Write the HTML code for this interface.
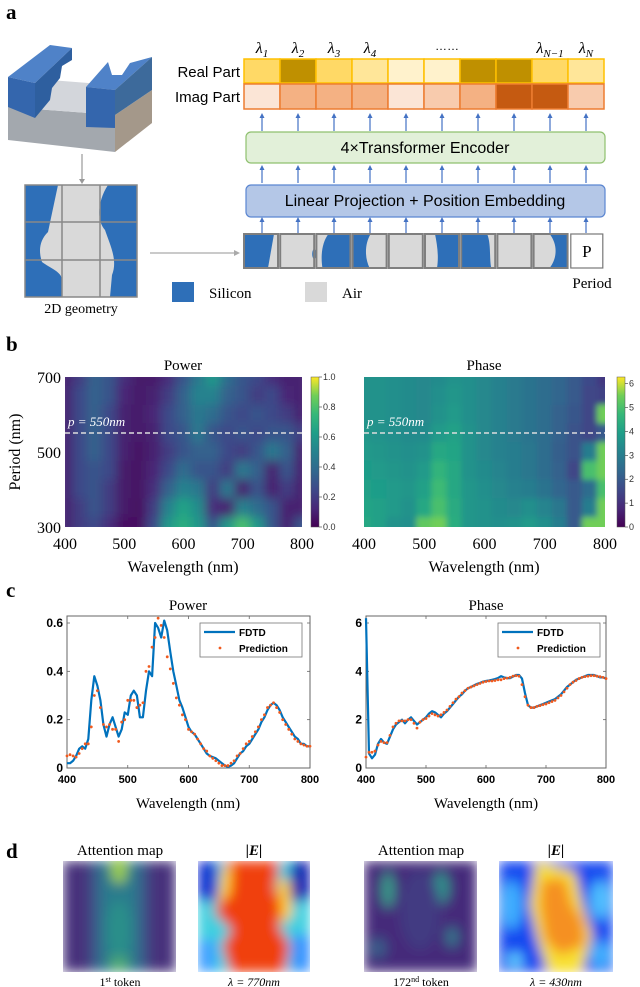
<!DOCTYPE html>
<html><head><meta charset="utf-8"><style>
html,body{margin:0;padding:0;background:#fff}
svg{display:block}
.serif{font-family:"Liberation Serif",serif}
.sans{font-family:"Liberation Sans",sans-serif}
</style></head><body>
<svg id="fig" width="640" height="987" viewBox="0 0 640 987" xmlns="http://www.w3.org/2000/svg">
<defs>
<filter id="blurH" x="0" y="0" width="1" height="1"><feGaussianBlur stdDeviation="5" edgeMode="duplicate"/></filter>
<filter id="blurQ" x="0" y="0" width="1" height="1"><feGaussianBlur stdDeviation="3" edgeMode="duplicate"/></filter>
<filter id="blurD" x="0" y="0" width="1" height="1"><feGaussianBlur stdDeviation="6" edgeMode="duplicate"/></filter>
<clipPath id="cpP"><rect x="65" y="377" width="237" height="150"/></clipPath>
<clipPath id="cpQ"><rect x="364" y="377" width="241" height="150"/></clipPath>
<clipPath id="cpD1"><rect x="63" y="861" width="113" height="111"/></clipPath>
<clipPath id="cpD2"><rect x="198" y="861" width="112" height="111"/></clipPath>
<clipPath id="cpD3"><rect x="364" y="861" width="113" height="111"/></clipPath>
<clipPath id="cpD4"><rect x="499" y="861" width="114" height="111"/></clipPath>
<linearGradient id="vir" x1="0" y1="1" x2="0" y2="0">
<stop offset="0" stop-color="#440154"/><stop offset="0.125" stop-color="#482878"/><stop offset="0.25" stop-color="#3e4989"/><stop offset="0.375" stop-color="#31688e"/><stop offset="0.5" stop-color="#26828e"/><stop offset="0.625" stop-color="#1f9e89"/><stop offset="0.75" stop-color="#35b779"/><stop offset="0.875" stop-color="#6ece58"/><stop offset="1" stop-color="#fde725"/>
</linearGradient>
</defs>

<!-- Panel a -->
<text x="6" y="19" class="serif" font-size="21" font-weight="bold">a</text>
<g>
<polygon points="8,107 115,115 115,152 8,140" fill="#a3a8ae"/>
<polygon points="115,115 152,90 152,123 115,152" fill="#a4988a"/>
<polygon points="8,107 50,80 152,88 115,115" fill="#d3d6db"/>
<polygon points="8,77 50,45 72,48 35,83" fill="#4f82c8"/>
<polygon points="8,77 35,83 35,118 8,107" fill="#3466ad"/>
<polygon points="35,83 72,48 72,60 62,66 60,78 52,88 50,100 35,118" fill="#2e5f9f"/>
<polygon points="86,87 108,62 112,75 122,75 130,63 152,57 115,90" fill="#4f82c8"/>
<polygon points="86,87 115,90 115,128 86,127" fill="#3466ad"/>
<polygon points="115,90 152,57 152,90 115,115" fill="#3d6a9b"/>
</g>
<line x1="82" y1="154" x2="82" y2="180" stroke="#999" stroke-width="1.2"/>
<polygon points="79,179 85,179 82,184" fill="#999"/>
<g>
<rect x="25" y="185" width="112" height="112" fill="#2e6fb8"/>
<path d="M58,185 L108,185 C98,200 96,220 105,230 C110,245 118,260 112,275 L110,297 L62,297 L62,280 C62,272 50,268 42,262 C38,250 40,240 48,232 Z" fill="#d9d9d9"/>
<g stroke="#888" stroke-width="1.5" fill="none"><rect x="25" y="185" width="112" height="112"/><line x1="62" y1="185" x2="62" y2="297"/><line x1="100" y1="185" x2="100" y2="297"/><line x1="25" y1="222" x2="137" y2="222"/><line x1="25" y1="260" x2="137" y2="260"/></g>
</g>
<text x="81" y="313" class="serif" font-size="14" text-anchor="middle">2D geometry</text>
<line x1="150" y1="253" x2="235" y2="253" stroke="#aaa" stroke-width="1.2"/>
<polygon points="234,250 234,256 240,253" fill="#aaa"/>
<rect x="172" y="282" width="22" height="20" fill="#2e6fb8"/>
<text x="209" y="298" class="serif" font-size="15">Silicon</text>
<rect x="305" y="282" width="22" height="20" fill="#d9d9d9"/>
<text x="342" y="298" class="serif" font-size="15">Air</text>

<g id="panelA"></g>
<text x="240" y="77" class="sans" font-size="15" text-anchor="end">Real Part</text>
<text x="240" y="102" class="sans" font-size="15" text-anchor="end">Imag Part</text>
<rect x="246" y="132" width="359" height="31" rx="5" fill="#e2f0d9" stroke="#8fc06f" stroke-width="1.2"/>
<text x="425" y="153" class="sans" font-size="16" text-anchor="middle">4×Transformer Encoder</text>
<rect x="246" y="185" width="359" height="32" rx="5" fill="#b4c7e7" stroke="#5b86d1" stroke-width="1.2"/>
<text x="425" y="206" class="sans" font-size="16" text-anchor="middle">Linear Projection + Position Embedding</text>
<text x="592" y="288" class="serif" font-size="15" text-anchor="middle">Period</text>

<!-- Panel b -->
<text x="6" y="351" class="serif" font-size="21" font-weight="bold">b</text>
<text x="183" y="370" class="serif" font-size="15" text-anchor="middle">Power</text>
<text x="484" y="370" class="serif" font-size="15" text-anchor="middle">Phase</text>
<g clip-path="url(#cpP)"><g id="hmP" filter="url(#blurH)"></g></g>
<g clip-path="url(#cpQ)"><g id="hmQ" filter="url(#blurQ)"></g></g>
<g id="hmAxes"></g>
<rect x="311" y="377" width="8" height="150" fill="url(#vir)" stroke="#555" stroke-width="0.5"/>
<rect x="617" y="377" width="8" height="150" fill="url(#vir)" stroke="#555" stroke-width="0.5"/>
<text transform="translate(20,452) rotate(-90)" class="serif" font-size="16" text-anchor="middle">Period (nm)</text>
<text x="183" y="572" class="serif" font-size="16" text-anchor="middle">Wavelength (nm)</text>
<text x="484" y="572" class="serif" font-size="16" text-anchor="middle">Wavelength (nm)</text>

<!-- Panel c -->
<text x="6" y="597" class="serif" font-size="21" font-weight="bold">c</text>
<text x="188" y="610" class="serif" font-size="15" text-anchor="middle">Power</text>
<text x="486" y="610" class="serif" font-size="15" text-anchor="middle">Phase</text>
<g id="lines"></g>
<text x="188" y="808" class="serif" font-size="15" text-anchor="middle">Wavelength (nm)</text>
<text x="486" y="808" class="serif" font-size="15" text-anchor="middle">Wavelength (nm)</text>

<!-- Panel d -->
<text x="6" y="858" class="serif" font-size="21" font-weight="bold">d</text>
<text x="120" y="855" class="serif" font-size="15" text-anchor="middle">Attention map</text>
<text x="254" y="855" class="serif" font-size="15" font-weight="bold" font-style="italic" text-anchor="middle">|E|</text>
<text x="421" y="855" class="serif" font-size="15" text-anchor="middle">Attention map</text>
<text x="556" y="855" class="serif" font-size="15" font-weight="bold" font-style="italic" text-anchor="middle">|E|</text>

<g clip-path="url(#cpD1)"><g filter="url(#blurD)">
<rect x="63" y="861" width="113" height="111" fill="#46307c"/>
<rect x="90" y="861" width="58" height="111" fill="#3b5a8c"/>
<rect x="100" y="861" width="38" height="111" fill="#2b7a8d"/>
<ellipse cx="119" cy="870" rx="8" ry="14" fill="#9ccf4a"/>
<ellipse cx="119" cy="962" rx="9" ry="10" fill="#55b06e"/>
<ellipse cx="119" cy="930" rx="12" ry="30" fill="#2c8f8a"/>
</g></g>
<g clip-path="url(#cpD2)"><g filter="url(#blurD)">
<rect x="198" y="861" width="112" height="111" fill="#40d0e0"/>
<rect x="198" y="861" width="20" height="40" fill="#1030d0"/>
<rect x="290" y="861" width="20" height="40" fill="#1020b0"/>
<rect x="198" y="940" width="18" height="32" fill="#40a0ff"/>
<rect x="292" y="935" width="18" height="37" fill="#3090ff"/>
<path d="M225,861 L280,861 L275,890 L288,905 L278,925 L290,945 L285,972 L230,972 L222,945 L232,930 L214,912 L228,890 Z" fill="#f04010"/>
<path d="M222,870 L232,865 L230,895 L215,905 L220,890 Z" fill="#ffd020"/>
<path d="M278,880 L290,880 L292,915 L282,925 Z" fill="#ffd020"/>
</g></g>
<g clip-path="url(#cpD3)"><g filter="url(#blurD)">
<rect x="364" y="861" width="113" height="111" fill="#45297a"/>
<ellipse cx="388" cy="890" rx="6" ry="18" fill="#35a08a"/>
<ellipse cx="441" cy="888" rx="8" ry="16" fill="#2a948c"/>
<ellipse cx="378" cy="948" rx="8" ry="10" fill="#38608c"/>
<ellipse cx="452" cy="937" rx="6" ry="10" fill="#2f7a8e"/>
<ellipse cx="420" cy="910" rx="20" ry="40" fill="#433b82"/>
</g></g>
<g clip-path="url(#cpD4)"><g filter="url(#blurD)">
<rect x="499" y="861" width="114" height="111" fill="#1848f0"/>
<ellipse cx="512" cy="905" rx="10" ry="25" fill="#40b0ff"/>
<ellipse cx="600" cy="900" rx="10" ry="20" fill="#50c0ff"/>
<ellipse cx="600" cy="955" rx="10" ry="14" fill="#40b0ff"/>
<ellipse cx="515" cy="960" rx="8" ry="8" fill="#60d0ff"/>
<path d="M536,861 L575,872 L582,905 L592,935 L582,972 L548,972 L538,940 L530,905 Z" fill="#f8e030"/>
<path d="M542,880 L565,878 L572,905 L583,920 L585,945 L560,955 L545,940 L540,905 Z" fill="#f59020"/>
</g></g>
<text x="120" y="986" class="serif" font-size="12" text-anchor="middle">1<tspan font-size="8" dy="-4">st</tspan><tspan dy="4"> token</tspan></text>
<text x="254" y="986" class="serif" font-size="12" font-style="italic" text-anchor="middle">λ = 770nm</text>
<text x="421" y="986" class="serif" font-size="12" text-anchor="middle">172<tspan font-size="8" dy="-4">nd</tspan><tspan dy="4"> token</tspan></text>
<text x="556" y="986" class="serif" font-size="12" font-style="italic" text-anchor="middle">λ = 430nm</text>
</svg>

<script>
// ---------- Panel a data ----------
const lambdaLabels = ["λ1","λ2","λ3","λ4","","","","","λN−1","λN"];
const realColors = ["#ffd966","#bf9000","#ffd966","#ffe699","#fff2cc","#fff2cc","#bf9000","#bf9000","#ffd966","#ffe699"];
const imagColors = ["#fbe5d6","#f4b183","#f4b183","#f4b183","#fbe5d6","#f8cbad","#f4b183","#c55a11","#c55a11","#f8cbad"];
const tokenKinds = ["a","b","c","d","e","f","g","e","h","P"];

// ---------- Panel b data (rows: period 700 -> 300 step 50; cols: wavelength 400 -> 800 step 25) ----------
const hmWavelengths = [400,425,450,475,500,525,550,575,600,625,650,675,700,725,750,775,800];
const hmPeriods = [700,650,600,550,500,450,400,350,300];
const powerGrid = [
 [0.1,0.2,0.35,0.3,0.15,0.08,0.08,0.15,0.3,0.45,0.6,0.4,0.3,0.25,0.15,0.1,0.1],
 [0.1,0.25,0.35,0.3,0.12,0.08,0.1,0.2,0.35,0.5,0.5,0.35,0.3,0.2,0.25,0.12,0.1],
 [0.1,0.25,0.35,0.25,0.1,0.08,0.12,0.25,0.35,0.45,0.4,0.3,0.25,0.3,0.25,0.2,0.1],
 [0.1,0.25,0.35,0.25,0.1,0.08,0.1,0.25,0.3,0.45,0.3,0.25,0.3,0.25,0.3,0.3,0.2],
 [0.1,0.25,0.35,0.25,0.1,0.06,0.1,0.2,0.3,0.35,0.35,0.25,0.2,0.3,0.45,0.35,0.1],
 [0.1,0.25,0.3,0.25,0.08,0.06,0.12,0.25,0.4,0.3,0.3,0.2,0.45,0.35,0.1,0.3,0.1],
 [0.1,0.25,0.3,0.2,0.08,0.06,0.15,0.35,0.5,0.45,0.2,0.45,0.1,0.3,0.1,0.2,0.1],
 [0.1,0.2,0.3,0.2,0.08,0.05,0.2,0.5,0.65,0.55,0.15,0.1,0.5,0.4,0.3,0.1,0.1],
 [0.1,0.2,0.25,0.15,0.05,0.05,0.25,0.6,0.7,0.6,0.3,0.6,0.8,0.6,0.3,0.1,0.3]
];
const phaseGrid = [
 [3.6,3.6,3.5,3.4,3.3,3.4,3.6,3.5,3.3,3.1,2.9,2.7,2.5,2.3,2.0,1.6,1.2],
 [3.6,3.6,3.5,3.4,3.3,3.5,3.7,3.5,3.3,3.1,2.9,2.7,2.5,2.3,2.0,1.5,1.4],
 [3.6,3.6,3.5,3.4,3.3,3.6,3.8,3.5,3.3,3.1,2.9,2.7,2.5,2.2,1.9,1.5,5.5],
 [3.7,3.6,3.5,3.4,3.4,3.8,4.0,3.6,3.3,3.1,2.9,2.7,2.5,2.2,1.8,1.5,2.0],
 [3.8,3.7,3.6,3.5,3.6,4.2,4.1,3.6,3.3,3.1,3.0,2.8,2.5,2.1,1.8,3.0,5.5],
 [3.9,3.8,3.7,3.6,3.8,4.6,4.2,3.6,3.4,3.2,3.0,2.8,2.5,2.2,1.5,5.0,5.5],
 [4.0,3.9,3.8,3.7,4.0,4.8,4.2,3.7,3.5,3.3,3.1,3.0,2.7,2.3,2.0,2.5,5.0],
 [4.1,4.0,3.8,3.6,4.2,5.0,4.3,3.7,3.6,3.4,3.3,3.5,3.2,2.8,2.0,3.0,5.5],
 [4.2,4.0,3.6,3.5,5.3,5.5,4.4,3.7,3.6,3.5,3.6,3.8,3.5,3.0,2.0,5.5,5.5]
];
const hmXTicks = [400,500,600,700,800];
const hmYTicks = [700,500,300];
const powerCbTicks = ["0.0","0.2","0.4","0.6","0.8","1.0"];
const phaseCbTicks = ["0","1","2","3","4","5","6"];

// ---------- Panel c data ----------
const lineWavelengths = [400,405,410,415,420,425,430,435,440,445,450,455,460,465,470,475,480,485,490,495,500,505,510,515,520,525,530,535,540,545,550,555,560,565,570,575,580,585,590,595,600,605,610,615,620,625,630,635,640,645,650,655,660,665,670,675,680,685,690,695,700,705,710,715,720,725,730,735,740,745,750,755,760,765,770,775,780,785,790,795,800];
const powerFDTD = [0.02,0.02,0.03,0.05,0.08,0.09,0.08,0.12,0.28,0.38,0.34,0.28,0.18,0.13,0.18,0.21,0.17,0.13,0.16,0.23,0.22,0.30,0.32,0.30,0.21,0.21,0.32,0.40,0.38,0.60,0.58,0.54,0.61,0.57,0.48,0.40,0.34,0.28,0.25,0.21,0.17,0.15,0.14,0.12,0.10,0.08,0.06,0.05,0.045,0.04,0.03,0.02,0.01,0.005,0.01,0.02,0.04,0.06,0.07,0.09,0.10,0.12,0.14,0.16,0.19,0.21,0.24,0.26,0.27,0.26,0.24,0.21,0.19,0.17,0.15,0.13,0.12,0.10,0.10,0.09,0.09];
const powerPred = [0.05,0.055,0.05,0.045,0.06,0.08,0.10,0.10,0.17,0.30,0.32,0.25,0.18,0.17,0.18,0.16,0.16,0.11,0.19,0.20,0.28,0.28,0.28,0.25,0.26,0.27,0.40,0.42,0.50,0.54,0.62,0.59,0.54,0.46,0.41,0.35,0.29,0.26,0.22,0.20,0.16,0.15,0.14,0.12,0.10,0.08,0.07,0.05,0.04,0.03,0.02,0.01,0.01,0.01,0.02,0.03,0.05,0.06,0.08,0.10,0.11,0.13,0.15,0.17,0.20,0.22,0.25,0.26,0.27,0.25,0.23,0.20,0.18,0.16,0.14,0.12,0.11,0.10,0.095,0.09,0.09];
const phaseFDTD = [6.2,0.6,0.4,0.55,1.0,1.2,1.05,1.0,1.3,1.6,1.8,1.9,2.0,1.85,2.0,2.1,1.95,1.8,1.9,2.0,2.1,2.25,2.35,2.3,2.2,2.1,2.25,2.35,2.5,2.65,2.8,2.95,3.05,3.2,3.3,3.35,3.42,3.48,3.52,3.57,3.6,3.62,3.65,3.68,3.72,3.8,3.75,3.72,3.72,3.78,3.85,3.85,3.7,3.1,2.6,2.5,2.5,2.55,2.6,2.65,2.7,2.75,2.8,2.85,2.95,3.05,3.2,3.35,3.45,3.55,3.65,3.7,3.75,3.8,3.85,3.85,3.85,3.8,3.75,3.75,3.7];
const phasePred = [0.45,0.65,0.65,0.7,0.95,1.1,1.05,1.05,1.35,1.7,1.85,1.95,1.95,1.95,2.0,2.0,1.85,1.65,1.9,2.0,2.05,2.15,2.25,2.2,2.15,2.2,2.3,2.4,2.55,2.7,2.85,2.95,3.1,3.2,3.3,3.35,3.4,3.45,3.5,3.55,3.58,3.6,3.6,3.62,3.65,3.65,3.7,3.72,3.75,3.8,3.82,3.8,3.45,2.95,2.6,2.5,2.5,2.55,2.58,2.62,2.65,2.7,2.75,2.8,2.9,3.0,3.15,3.3,3.45,3.55,3.62,3.7,3.75,3.78,3.8,3.82,3.82,3.8,3.78,3.75,3.7];
const lineXTicks = [400,500,600,700,800];
const powerYTicks = [0,0.2,0.4,0.6];
const phaseYTicks = [0,2,4,6];
const legendLabels = ["FDTD","Prediction"];

const NS="http://www.w3.org/2000/svg";
function mk(parent,tag,attrs,text){const e=document.createElementNS(NS,tag);for(const k in attrs)e.setAttribute(k,attrs[k]);if(text!==undefined)e.textContent=text;parent.appendChild(e);return e;}

const VIR=[[68,1,84],[72,40,120],[62,73,137],[49,104,142],[38,130,142],[31,158,137],[53,183,121],[110,206,88],[253,231,37]];
function viridis(t){t=Math.max(0,Math.min(1,t));const p=t*(VIR.length-1);const i=Math.min(VIR.length-2,Math.floor(p));const f=p-i;const a=VIR[i],b=VIR[i+1];return `rgb(${Math.round(a[0]+(b[0]-a[0])*f)},${Math.round(a[1]+(b[1]-a[1])*f)},${Math.round(a[2]+(b[2]-a[2])*f)})`;}

// ---------- Panel a drawing ----------
(function(){
 const g=document.getElementById('panelA');
 const x0=244,cw=36;
 realColors.forEach((c,i)=>{
  const r=mk(g,'rect',{x:x0+i*cw,y:59,width:cw,height:24,fill:c,stroke:'#ffc000','stroke-width':1.5});
  
  
 });
 imagColors.forEach((c,i)=>{
  const r=mk(g,'rect',{x:x0+i*cw,y:84,width:cw,height:25,fill:c,stroke:'#ed7d31','stroke-width':1.5});
  
  
 });
 lambdaLabels.forEach((l,i)=>{
  if(!l)return;
  const cx=x0+i*cw+cw/2;
  const t=mk(g,'text',{x:cx,y:53,'text-anchor':'middle','font-family':'"Liberation Serif",serif','font-size':16,'font-style':'italic'});
  
  
  mk(t,'tspan',{},'λ');
  mk(t,'tspan',{'font-size':11,dy:4},l.slice(1));
 });
 const d=mk(g,'text',{x:447,y:50,'text-anchor':'middle','font-family':'"Liberation Sans",sans-serif','font-size':12},'……');
 
 
 for(let i=0;i<10;i++){
  const cx=x0+i*cw+cw/2;
  [[131,114],[183,166],[233,218]].forEach(([y1,y2])=>{
   mk(g,'line',{x1:cx,y1:y1,x2:cx,y2:y2+3,stroke:'#4472c4','stroke-width':1.2});
   mk(g,'polygon',{points:`${cx-2.5},${y2+4} ${cx+2.5},${y2+4} ${cx},${y2-1}`,fill:'#4472c4'});
  });
 }
 tokenKinds.forEach((k,i)=>{
  const x=x0+i*36.2,y=234,w=34,h=34;
  const tg=mk(g,'g',{});
  
  
  if(k==='P'){
   mk(tg,'rect',{x:x+1,y:y,width:w-2,height:h,fill:'#fff',stroke:'#777','stroke-width':1.2});
   mk(tg,'text',{x:x+w/2,y:y+23,'text-anchor':'middle','font-family':'"Liberation Serif",serif','font-size':17},'P');
   return;
  }
  mk(tg,'rect',{x:x,y:y,width:w,height:h,fill:'#d9d9d9'});
  const B='#2e6fb8';
  if(k==='a')mk(tg,'polygon',{points:`${x},${y} ${x+30},${y} ${x+24},${y+h} ${x},${y+h}`,fill:B});
  if(k==='b')mk(tg,'ellipse',{cx:x+w,cy:y+20,rx:2,ry:5,fill:B});
  if(k==='c')mk(tg,'path',{d:`M${x+w},${y} L${x+12},${y} C${x+6},${y+8} ${x+4},${y+20} ${x+6},${y+h} L${x+w},${y+h} Z`,fill:B});
  if(k==='d')mk(tg,'path',{d:`M${x},${y} L${x+18},${y} C${x+12},${y+10} ${x+12},${y+24} ${x+17},${y+h} L${x},${y+h} Z`,fill:B});
  if(k==='f')mk(tg,'path',{d:`M${x+10},${y} L${x+w},${y} L${x+w},${y+h} L${x+12},${y+h} C${x+14},${y+22} ${x+12},${y+10} ${x+10},${y} Z`,fill:B});
  if(k==='g')mk(tg,'path',{d:`M${x},${y} L${x+26},${y} C${x+30},${y+10} ${x+28},${y+24} ${x+30},${y+h} L${x},${y+h} Z`,fill:B});
  if(k==='h')mk(tg,'path',{d:`M${x+16},${y} L${x+w},${y} L${x+w},${y+h} L${x+16},${y+h} C${x+24},${y+24} ${x+24},${y+10} ${x+16},${y} Z`,fill:B});
  mk(tg,'rect',{x:x,y:y,width:w,height:h,fill:'none',stroke:'#7f7f7f','stroke-width':2});
 });
})();

// ---------- Panel b drawing ----------
function drawHeat(gid,grid,vmax,left,right,top,bottom,name){
 const g=document.getElementById(gid);
 const nC=hmWavelengths.length,nR=hmPeriods.length;
 const xS=v=>left+(v-400)/400*(right-left);
 const yS=v=>bottom-(v-300)/400*(bottom-top);
 const dx=(right-left)/(nC-1),dy=(bottom-top)/(nR-1);
 grid.forEach((row,r)=>row.forEach((v,c)=>{
  const cx=xS(hmWavelengths[c]),cy=yS(hmPeriods[r]);
  const rc=mk(g,'rect',{x:cx-dx/2-0.5,y:cy-dy/2-0.5,width:dx+1,height:dy+1,fill:viridis(v/vmax)});
  
  
 }));
}
drawHeat('hmP',powerGrid,1.0,65,302,377,527,'power');
drawHeat('hmQ',phaseGrid,6.28,364,605,377,527,'phase');
(function(){
 const g=document.getElementById('hmAxes');
 [[65,302,'power'],[364,605,'phase']].forEach(([l,r,n])=>{
  const ln=mk(g,'line',{x1:l,y1:433,x2:r,y2:433,stroke:'#ddd','stroke-width':1.5,'stroke-dasharray':'5 3'});
  
  
  const t=mk(g,'text',{x:l+3,y:426,fill:'#fff','font-family':'"Liberation Serif",serif','font-size':13,'font-style':'italic'},'p = 550nm');
  
  
  hmXTicks.forEach(v=>{
   const x=l+(v-400)/400*(r-l);
   const tt=mk(g,'text',{x:x,y:549,'text-anchor':'middle','font-family':'"Liberation Serif",serif','font-size':16},String(v));
   
   
  });
 });
 hmYTicks.forEach(v=>{
  const y=527-(v-300)/400*150;
  const tt=mk(g,'text',{x:61,y:y+6,'text-anchor':'end','font-family':'"Liberation Serif",serif','font-size':16},String(v));
  
  
 });
 powerCbTicks.forEach(s=>{
  const y=527-parseFloat(s)*150;
  mk(g,'line',{x1:319,y1:y,x2:322,y2:y,stroke:'#333','stroke-width':0.6});
  const tt=mk(g,'text',{x:323,y:y+3,'font-family':'"Liberation Sans",sans-serif','font-size':9,fill:'#333'},s);
  
  
 });
 phaseCbTicks.forEach(s=>{
  const y=527-parseFloat(s)/6.28*150;
  mk(g,'line',{x1:625,y1:y,x2:628,y2:y,stroke:'#333','stroke-width':0.6});
  const tt=mk(g,'text',{x:629,y:y+3,'font-family':'"Liberation Sans",sans-serif','font-size':9,fill:'#333'},s);
  
  
 });
})();

// ---------- Panel c drawing ----------
function linePlot(name,left,right,top,bottom,ymax,yTicks,fdtd,pred,legX){
 const g=document.getElementById('lines');
 const xS=v=>left+(v-400)/400*(right-left);
 const y0=768,yS=v=>y0-v/ymax*(y0-623);
 const box=mk(g,'rect',{x:left,y:top,width:right-left,height:bottom-top,fill:'#fff',stroke:'#666','stroke-width':1});
 
 
 lineXTicks.forEach(v=>{
  const x=xS(v);
  mk(g,'line',{x1:x,y1:bottom,x2:x,y2:bottom-3,stroke:'#666','stroke-width':0.8});
  mk(g,'line',{x1:x,y1:top,x2:x,y2:top+3,stroke:'#666','stroke-width':0.8});
  const t=mk(g,'text',{x:x,y:bottom+15,'text-anchor':'middle','font-family':'"Liberation Sans",sans-serif','font-size':11,'font-weight':'bold'},String(v));
  
  
 });
 yTicks.forEach(v=>{
  const y=yS(v);
  mk(g,'line',{x1:left,y1:y,x2:left+3,y2:y,stroke:'#666','stroke-width':0.8});
  mk(g,'line',{x1:right,y1:y,x2:right-3,y2:y,stroke:'#666','stroke-width':0.8});
  const t=mk(g,'text',{x:left-4,y:y+4,'text-anchor':'end','font-family':'"Liberation Sans",sans-serif','font-size':12,'font-weight':'bold'},String(v));
  
  
 });
 const pts=lineWavelengths.map((w,i)=>xS(w).toFixed(1)+','+yS(fdtd[i]).toFixed(1)).join(' ');
 const pl=mk(g,'polyline',{points:pts,fill:'none',stroke:'#0072bd','stroke-width':2.2,'stroke-linejoin':'round'});
 
 
 lineWavelengths.forEach((w,i)=>{
  const c=mk(g,'circle',{cx:xS(w),cy:yS(pred[i]),r:1.4,fill:'#f05a1e'});
  
  
 });
 const lg=mk(g,'g',{});
 
 
 mk(lg,'rect',{x:legX,y:623,width:102,height:34,fill:'#fff',stroke:'#777','stroke-width':0.8});
 mk(lg,'line',{x1:legX+4,y1:632,x2:legX+35,y2:632,stroke:'#0072bd','stroke-width':2.2});
 mk(lg,'text',{x:legX+39,y:636,'font-family':'"Liberation Sans",sans-serif','font-size':10,'font-weight':'bold'},legendLabels[0]);
 mk(lg,'circle',{cx:legX+20,cy:648,r:1.4,fill:'#f05a1e'});
 mk(lg,'text',{x:legX+39,y:652,'font-family':'"Liberation Sans",sans-serif','font-size':10,'font-weight':'bold'},legendLabels[1]);
}
linePlot('power-plot',67,310,616,768,0.6,powerYTicks,powerFDTD,powerPred,200);
linePlot('phase-plot',366,606,616,768,6,phaseYTicks,phaseFDTD,phasePred,498);
</script>
</body></html>
